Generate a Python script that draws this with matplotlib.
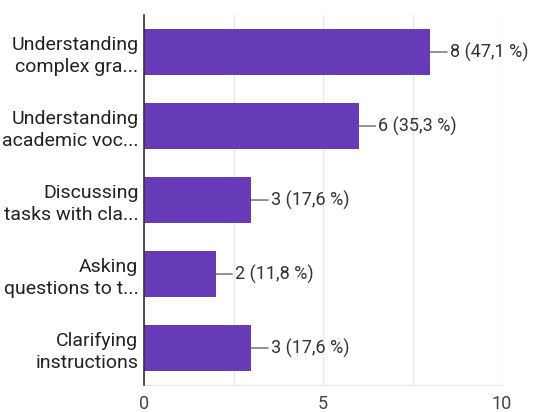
import matplotlib.pyplot as plt

categories = ["Understanding\ncomplex gra...", "Understanding\nacademic voc...",
              "Discussing\ntasks with cla...", "Asking\nquestions to t...",
              "Clarifying\ninstructions"]
counts = [8, 6, 3, 2, 3]
labels = ["8 (47,1 %)", "6 (35,3 %)", "3 (17,6 %)", "2 (11,8 %)", "3 (17,6 %)"]
xticks = [0, 5, 10]

plt.rcParams['font.family'] = ['Roboto', 'DejaVu Sans']

fig = plt.figure(figsize=(5.36, 4.12), dpi=100)
ax = fig.add_axes([0.2687, 0.0655, 0.668, 0.898])

y = list(range(len(categories)))
ax.barh(y, counts, height=0.61, color='#673ab7', zorder=3)

for yi, c, lab in zip(y, counts, labels):
    ax.annotate(lab, xy=(c, yi), xytext=(14, 0), textcoords='offset points',
                va='center', ha='left', fontsize=13, color='#333333',
                arrowprops=dict(arrowstyle='-', color='#666666', lw=1,
                                shrinkA=0, shrinkB=0))

ax.set_xlim(0, 10)
ax.set_ylim(len(categories) - 0.5, -0.5)
ax.set_yticks(y)
ax.set_yticklabels(categories, fontsize=14, color='#222222', linespacing=1.3)
ax.set_xticks(xticks)
ax.set_xticklabels([str(t) for t in xticks], fontsize=13, color='#444444')
ax.set_xticks([2.5, 7.5], minor=True)
ax.tick_params(axis='both', which='both', length=0)
ax.tick_params(axis='x', pad=7)
ax.tick_params(axis='y', pad=4)
ax.grid(axis='x', which='both', color='#e6e6e6', lw=1, zorder=0)

for s in ['top', 'right']:
    ax.spines[s].set_visible(False)
ax.spines['bottom'].set_color('#e6e6e6')
ax.spines['left'].set_color('#333333')
ax.spines['left'].set_linewidth(1.2)
ax.spines['left'].set_zorder(4)

fig.savefig('out.png', dpi=100)
